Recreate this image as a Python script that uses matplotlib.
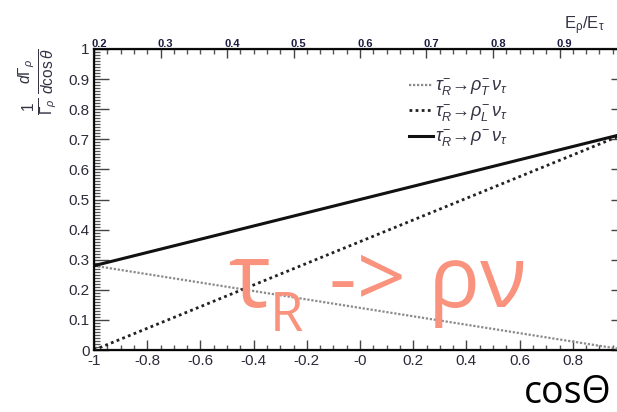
import matplotlib
matplotlib.use('Agg')
import matplotlib.pyplot as plt
from matplotlib.ticker import MultipleLocator, FixedLocator
from matplotlib.transforms import ScaledTranslation
import numpy as np

# helicity fractions for tau_R -> rho nu, linear in cos(theta)
cos_theta = [-1.0, 1.0]
rho_T = [0.28, 0.0]
rho_L = [0.0, 0.72]
rho_sum = [0.28, 0.72]

bottom_ticks = [-1, -0.8, -0.6, -0.4, -0.2, 0, 0.2, 0.4, 0.6, 0.8]
bottom_labels = ['-1', '-0.8', '-0.6', '-0.4', '-0.2', '-0', '0.2', '0.4', '0.6', '0.8']
top_ticks = [0.2, 0.3, 0.4, 0.5, 0.6, 0.7, 0.8, 0.9]
y_ticks = [0, 0.1, 0.2, 0.3, 0.4, 0.5, 0.6, 0.7, 0.8, 0.9, 1]
y_labels = ['0', '0.1', '0.2', '0.3', '0.4', '0.5', '0.6', '0.7', '0.8', '0.9', '1']

labels = [r'$\tau^{-}_{R}\!\rightarrow\!\rho^{-}_{T}\,\nu_{\tau}$',
          r'$\tau^{-}_{R}\!\rightarrow\!\rho^{-}_{L}\,\nu_{\tau}$',
          r'$\tau^{-}_{R}\!\rightarrow\!\rho^{-}\,\nu_{\tau}$']

plt.rcParams['font.family'] = ['Liberation Sans', 'DejaVu Sans']
plt.rcParams['mathtext.fontset'] = 'custom'
plt.rcParams['mathtext.rm'] = 'Liberation Sans'
plt.rcParams['mathtext.it'] = 'Liberation Sans:italic'

W, H = 617, 412
fig = plt.figure(figsize=(W / 100, H / 100), dpi=100)
fig.patch.set_facecolor('white')

# axes extends a bit past the right edge (the right frame is cropped)
x0, x1, y0, y1 = 94, 626, 49, 350
ax = fig.add_axes([x0 / W, 1 - y1 / H, (x1 - x0) / W, (y1 - y0) / H])

ax.plot(cos_theta, rho_T, color='#8a8a8a', lw=1.6, ls=(0, (1, 0.8)), label=labels[0], zorder=3)
ax.plot(cos_theta, rho_L, color='#222222', lw=2.0, ls=(0, (1, 1.2)), label=labels[1], zorder=3)
ax.plot(cos_theta, rho_sum, color='#111111', lw=2.2, label=labels[2], zorder=3)

ax.set_xlim(-1, 1)
ax.set_ylim(0, 1)
tick_col = '#2b2b3a'
ax.xaxis.set_major_locator(FixedLocator(bottom_ticks))
ax.set_xticklabels(bottom_labels)
ax.xaxis.set_minor_locator(MultipleLocator(0.05))
ax.yaxis.set_major_locator(FixedLocator(y_ticks))
ax.set_yticklabels(y_labels)
ax.yaxis.set_minor_locator(MultipleLocator(0.01))
ax.tick_params(axis='x', which='major', direction='in', length=7, width=1.0, pad=3,
               labelsize=11, labelcolor=tick_col, color='#444')
ax.tick_params(axis='x', which='minor', direction='in', length=3.5, width=1.0, color='#555')
ax.tick_params(axis='y', which='major', direction='in', length=11, width=1.0, pad=3,
               labelsize=11, labelcolor=tick_col, right=True, color='#444')
ax.tick_params(axis='y', which='minor', direction='in', length=4.5, width=0.9, right=True, color='#555')
for s in ax.spines.values():
    s.set_linewidth(1.6)
    s.set_color('#111')

# top axis: E_rho / E_tau
top = ax.twiny()
top.set_xlim(0.2, 1.0)
top.xaxis.set_major_locator(FixedLocator(top_ticks))
top.set_xticklabels(['%.1f' % t for t in top_ticks])
top.xaxis.set_minor_locator(MultipleLocator(0.02))
top.tick_params(axis='x', which='major', direction='in', length=6.5, width=1.0, pad=0,
                labelsize=8, labelcolor='#1c1c40', color='#444')
top.tick_params(axis='x', which='minor', direction='in', length=3.5, width=1.0, color='#555')
shift = ScaledTranslation(5 / 100, 0, fig.dpi_scale_trans)
for lab in top.get_xticklabels():
    lab.set_fontweight('bold')
    lab.set_transform(lab.get_transform() + shift)

leg = ax.legend(loc='upper left', bbox_to_anchor=((402 - x0) / (x1 - x0), (y1 - 70) / (y1 - y0)),
                frameon=False, fontsize=13, handlelength=1.3, handletextpad=0.15,
                labelspacing=0.25, borderaxespad=0)
for t in leg.get_texts():
    t.set_color('#333344')

fig.text(605 / W, 1 - 29 / H, r'$\mathregular{E_{\rho}/E_{\tau}}$', ha='right', va='baseline',
         fontsize=12, color='#333344')
fig.text(38 / W, 1 - 82 / H,
         r'$\frac{1}{\Gamma_{\rho}}\,\frac{d\Gamma_{\rho}}{d\cos\theta}$',
         rotation=90, ha='center', va='center', fontsize=16, color='#333344')

# slide annotation
salmon = '#F9937E'
fig.text(228 / W, 1 - 307 / H, 'τ', fontsize=64, color=salmon, family='Open Sans',
         ha='left', va='baseline', zorder=1)
fig.text(270 / W, 1 - 331 / H, 'R', fontsize=39, color=salmon, family='Open Sans',
         ha='left', va='baseline', zorder=1)
fig.text(329 / W, 1 - 307 / H, '-> ρν', fontsize=62, color=salmon, family='Open Sans',
         ha='left', va='baseline', zorder=1)
fig.text(611 / W, 1 - 403 / H, 'cosΘ', fontsize=27, color='black', family='Open Sans',
         ha='right', va='baseline')

fig.savefig('out.png', dpi=100)
